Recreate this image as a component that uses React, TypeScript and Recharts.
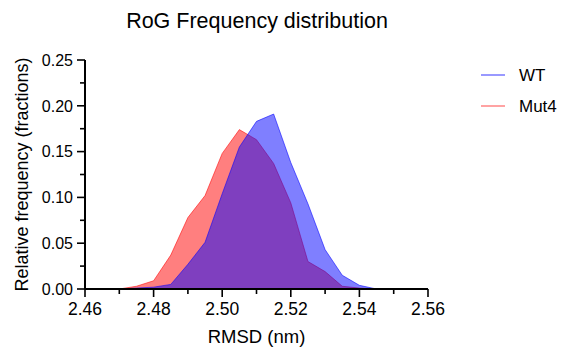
import React from 'react';
import { AreaChart, Area, XAxis, YAxis, Label } from 'recharts';

// bin centres (nm) and relative frequencies
const rmsdBins = [2.465, 2.47, 2.475, 2.48, 2.485, 2.49, 2.495, 2.5, 2.505, 2.51, 2.515, 2.52, 2.525, 2.53, 2.535, 2.54, 2.545];
const wtFreq = [0, 0, 0.001, 0.002, 0.005, 0.027, 0.051, 0.104, 0.155, 0.183, 0.191, 0.138, 0.093, 0.043, 0.015, 0.004, 0];
const mut4Freq = [0, 0, 0.003, 0.009, 0.037, 0.078, 0.102, 0.148, 0.174, 0.163, 0.137, 0.094, 0.03, 0.019, 0.003, 0.001, 0];

const xTicks = [2.46, 2.47, 2.48, 2.49, 2.5, 2.51, 2.52, 2.53, 2.54, 2.55, 2.56];
const yTicks = [0, 0.025, 0.05, 0.075, 0.1, 0.125, 0.15, 0.175, 0.2, 0.225, 0.25];

const seriesNames = ['WT', 'Mut4'];

const FONT = '"Liberation Sans", Arial, Helvetica, sans-serif';
const WT_COLOR = '#0000ff';
const MUT_COLOR = '#ff0000';

const data = rmsdBins.map((x, i) => ({ x, wt: wtFreq[i], mut4: mut4Freq[i] }));

// x axis: label every 0.02, minor tick in between
const XTick = (props: any) => {
  const { x, y, payload } = props;
  const v = payload.value as number;
  const major = Math.round(v * 100) % 2 === 0;
  return (
    <g>
      <line x1={x} x2={x} y1={y} y2={y + (major ? 8 : 5)} stroke="#000" strokeWidth={1.6} />
      {major && (
        <text x={x} y={y + 26} textAnchor="middle" fontSize={17.5} fontFamily={FONT} fill="#000">
          {v.toFixed(2)}
        </text>
      )}
    </g>
  );
};

const YTick = (props: any) => {
  const { x, y, payload } = props;
  const v = payload.value as number;
  const major = Math.round(v * 1000) % 50 === 0;
  return (
    <g>
      <line x1={x} x2={x - (major ? 8 : 5)} y1={y} y2={y} stroke="#000" strokeWidth={1.6} />
      {major && (
        <text x={x - 12} y={y} dy="0.36em" textAnchor="end" fontSize={16} fontFamily={FONT} fill="#000">
          {v.toFixed(2)}
        </text>
      )}
    </g>
  );
};

const LegendBox = () => (
  <svg width={80} height={60} style={{ position: 'absolute', left: 478, top: 62 }}>
    {seriesNames.map((name, i) => (
      <g key={name}>
        <line x1={3} x2={27} y1={13 + i * 31} y2={13 + i * 31} stroke={i === 0 ? '#8080ff' : '#ff8c8c'} strokeWidth={1.6} />
        <text x={41} y={19 + i * 31} fontSize={17} fontFamily={FONT} fill="#000">
          {name}
        </text>
      </g>
    ))}
  </svg>
);

export default function App() {
  return (
    <div style={{ position: 'absolute', left: 0, top: 0, width: 563, height: 349, background: '#fff', fontFamily: FONT }}>
      <div style={{ position: 'absolute', left: 0, top: 11, width: 514, textAlign: 'center', fontSize: 21.5, lineHeight: '21px', color: '#000' }}>
        RoG Frequency distribution
      </div>
      <AreaChart width={563} height={349} data={data} margin={{ top: 60, right: 135, bottom: 0, left: 0 }}>
        <XAxis
          dataKey="x"
          type="number"
          domain={[2.46, 2.56]}
          ticks={xTicks}
          interval={0}
          tickSize={0}
          tickMargin={0}
          tickLine={false}
          tick={<XTick />}
          axisLine={{ stroke: '#000', strokeWidth: 2 }}
          height={60}
          allowDataOverflow
        >
          <Label value="RMSD (nm)" position="insideBottom" offset={6} style={{ fontSize: 18.5, fontFamily: FONT, fill: '#000' }} />
        </XAxis>
        <YAxis
          type="number"
          domain={[0, 0.25]}
          ticks={yTicks}
          interval={0}
          tickSize={0}
          tickMargin={0}
          tickLine={false}
          tick={<YTick />}
          axisLine={{ stroke: '#000', strokeWidth: 2 }}
          width={85}
          allowDataOverflow
        >
          <Label
            value="Relative frequency (fractions)"
            angle={-90}
            position="insideLeft"
            offset={22}
            style={{ fontSize: 18, fontFamily: FONT, fill: '#000', textAnchor: 'middle' }}
          />
        </YAxis>
        <Area
          type="linear"
          dataKey="mut4"
          name="Mut4"
          fill={MUT_COLOR}
          fillOpacity={0.5}
          stroke={MUT_COLOR}
          strokeOpacity={0.55}
          strokeWidth={1}
          isAnimationActive={false}
        />
        <Area
          type="linear"
          dataKey="wt"
          name="WT"
          fill={WT_COLOR}
          fillOpacity={0.5}
          stroke={WT_COLOR}
          strokeOpacity={0.55}
          strokeWidth={1}
          isAnimationActive={false}
        />
      </AreaChart>
      <LegendBox />
    </div>
  );
}
